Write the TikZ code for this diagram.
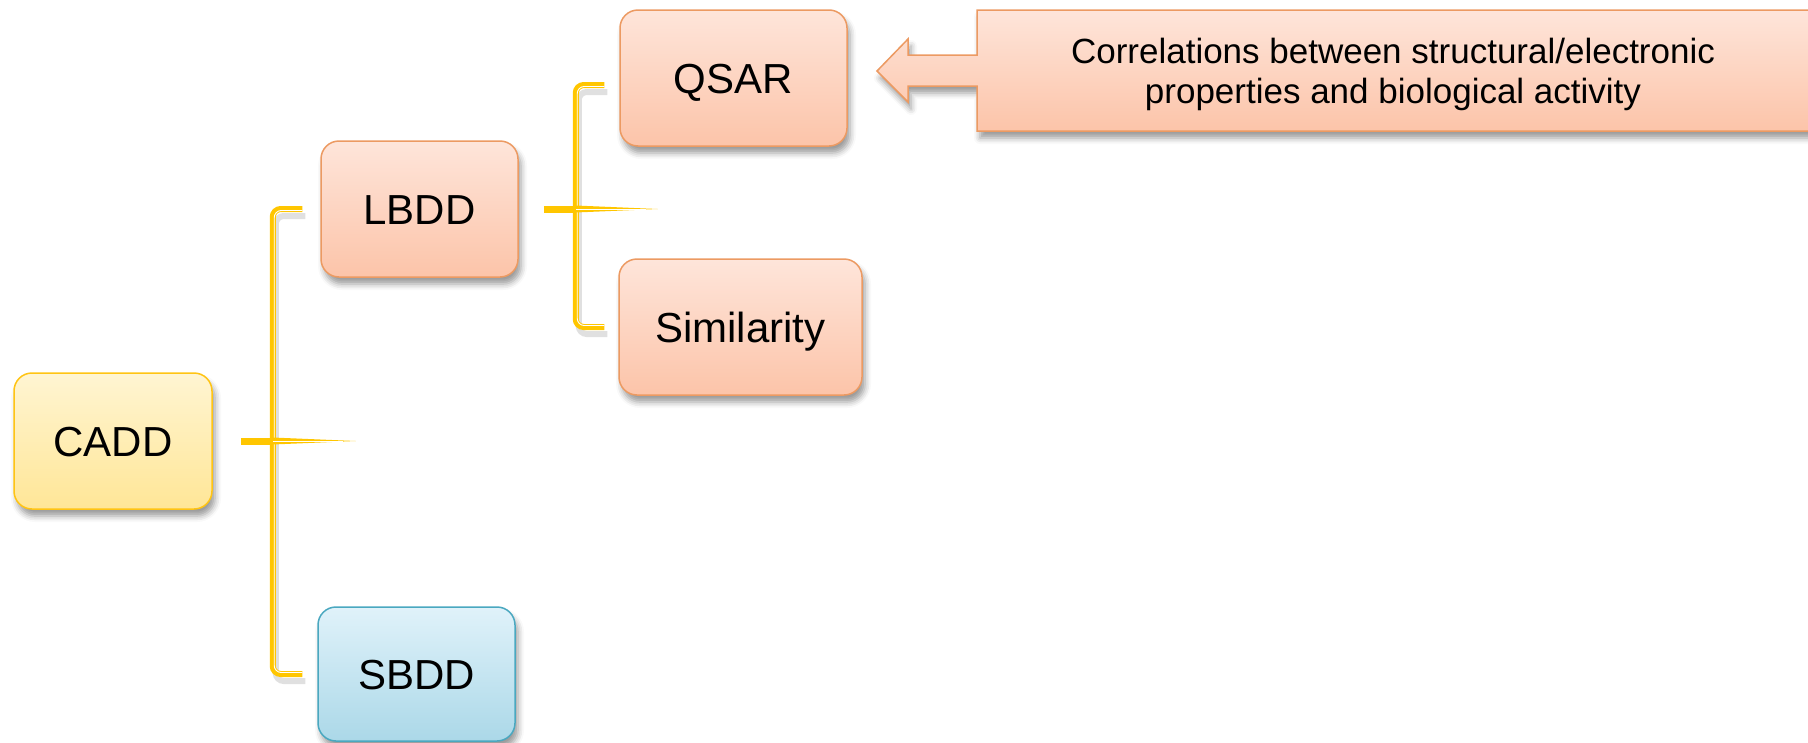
\documentclass[tikz,border=0pt]{standalone}
\usepackage{fontspec}
\setmainfont{Liberation Sans}
\usetikzlibrary{calc,shadows.blur}

\definecolor{peachtop}{HTML}{FEE5DA}
\definecolor{peachbot}{HTML}{FCC4A9}
\definecolor{peachline}{HTML}{EC9A62}
\definecolor{yellowtop}{HTML}{FFF5D2}
\definecolor{yellowbot}{HTML}{FFE697}
\definecolor{yellowline}{HTML}{FFC414}
\definecolor{bluetop}{HTML}{E0F2FA}
\definecolor{bluebot}{HTML}{ABD8E8}
\definecolor{blueline}{HTML}{4AA8C0}
\definecolor{bracegold}{HTML}{FFC600}

\begin{document}
\begin{tikzpicture}[x=1pt,y=-1pt,
  softshadow/.style={blur shadow={shadow xshift=3pt, shadow yshift=-7pt,
      shadow blur radius=6pt, shadow opacity=40}},
  box/.style={rounded corners=18pt, line width=1.5pt, inner sep=0pt,
      font=\fontsize{42}{50}\selectfont, text height=30pt, text depth=0pt,
      softshadow},
  peachbox/.style={box, draw=peachline, top color=peachtop, bottom color=peachbot},
  yellowbox/.style={box, draw=yellowline, top color=yellowtop, bottom color=yellowbot},
  bluebox/.style={box, draw=blueline, top color=bluetop, bottom color=bluebot},
  braceline/.style={draw=bracegold, line width=6pt, rounded corners=8pt},
  braceglint/.style={draw=white, line width=0.9pt, rounded corners=7pt},
  braceshade/.style={draw=black, draw opacity=0.12, line width=6pt,
      rounded corners=8pt},
  stub/.style={draw=bracegold, line width=7pt},
]
\useasboundingbox (0,0) rectangle (1808,742);

% boxes of the tree
\node[yellowbox, minimum width=198pt, minimum height=136pt] (CADD) at (113,441) {CADD};
\node[peachbox, minimum width=197pt, minimum height=136pt] (LBDD) at (419.5,209) {LBDD};
\node[bluebox, minimum width=197pt, minimum height=134pt] (SBDD) at (416.5,674) {SBDD};
\node[peachbox, minimum width=227pt, minimum height=136pt] (QSAR) at (733.5,78) {QSAR};
\node[peachbox, minimum width=243pt, minimum height=136pt] (SIM) at (740.5,327) {Similarity};

% brace CADD -> LBDD / SBDD
\coordinate (b1) at ($(CADD.east)+(60,0)$);
\coordinate (b1top) at ($(LBDD.west)+(-18,0)$);
\coordinate (b1bot) at ($(SBDD.west)+(-15,0)$);
\draw[braceshade] ($(b1top)+(3,7)$) -| ($(b1)+(3,7)$) |- ($(b1bot)+(3,7)$);
\draw[braceline] (b1top) -| (b1) |- (b1bot);
\draw[braceglint] ($(b1top)+(0,1.5)$) -| ($(b1)+(1.5,0)$) |- ($(b1bot)+(0,-1.5)$);
\draw[stub] ($(CADD.east)+(28,0)$) -- ($(b1)+(-2,0)$);
\fill[bracegold] ($(b1)+(0,-3.5)$) -- ($(b1)+(83,0)$) -- ($(b1)+(0,3.5)$) -- cycle;
\draw[white, line width=0.8pt] (b1) -- ($(b1)+(70,0)$);

% brace LBDD -> QSAR / Similarity
\coordinate (b2) at ($(LBDD.east)+(57,0)$);
\coordinate (b2top) at ($(QSAR.west)+(-15,7)$);
\coordinate (b2bot) at ($(SIM.west)+(-14,0)$);
\draw[braceshade] ($(b2top)+(3,7)$) -| ($(b2)+(3,7)$) |- ($(b2bot)+(3,7)$);
\draw[braceline] (b2top) -| (b2) |- (b2bot);
\draw[braceglint] ($(b2top)+(0,1.5)$) -| ($(b2)+(1.5,0)$) |- ($(b2bot)+(0,-1.5)$);
\draw[stub] ($(LBDD.east)+(25,0)$) -- ($(b2)+(-2,0)$);
\fill[bracegold] ($(b2)+(0,-3.5)$) -- ($(b2)+(82,0)$) -- ($(b2)+(0,3.5)$) -- cycle;
\draw[white, line width=0.8pt] (b2) -- ($(b2)+(70,0)$);

% left-pointing callout
\fill[draw=peachline, line width=1.5pt, top color=peachtop, bottom color=peachbot, softshadow]
  (1815,10) -- (977,10) -- (977,55) -- (908,55) -- (908,39) -- (877,71)
  -- (908,102) -- (908,86) -- (977,86) -- (977,131) -- (1815,131) -- cycle;
\node[align=center, inner sep=0pt, font=\fontsize{35}{40}\selectfont] (note) at (1393,74)
  {Correlations between structural/electronic\\properties and biological activity};
\end{tikzpicture}
\end{document}
